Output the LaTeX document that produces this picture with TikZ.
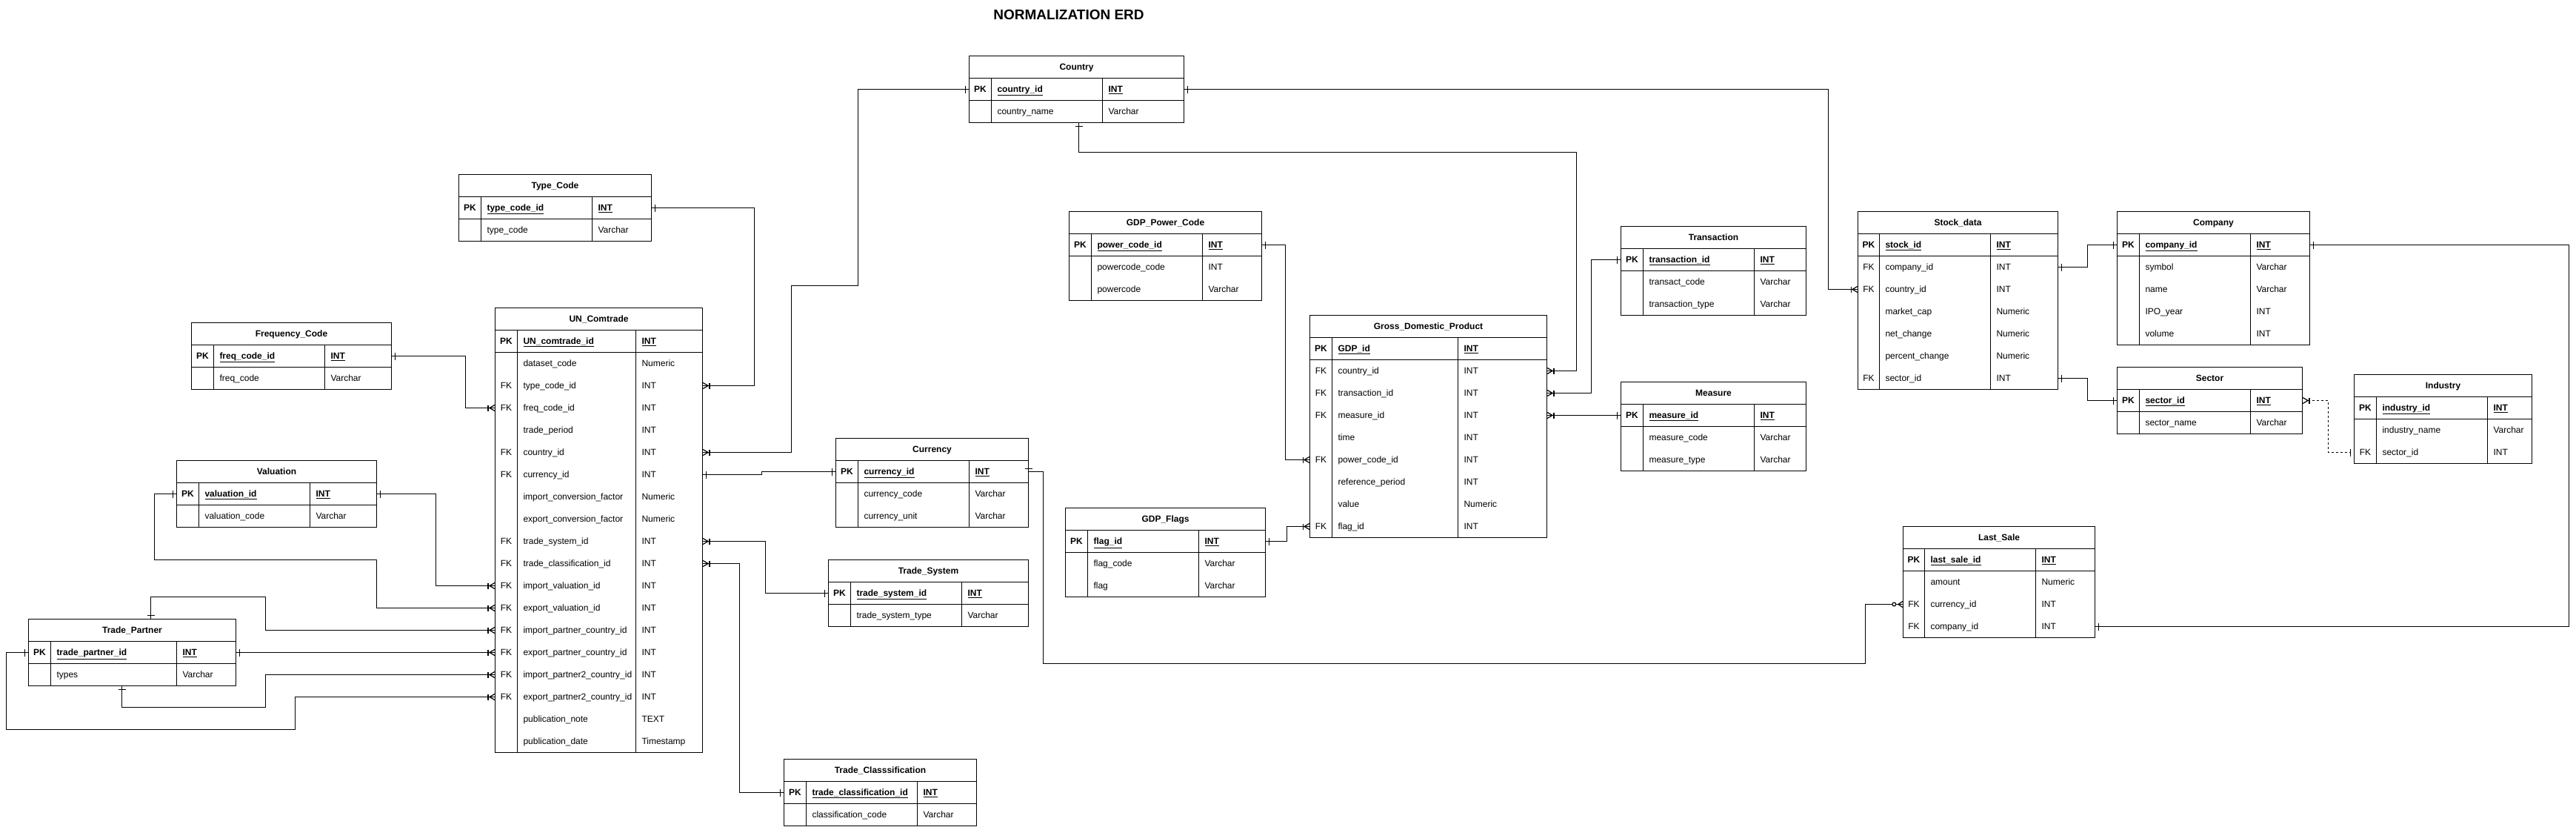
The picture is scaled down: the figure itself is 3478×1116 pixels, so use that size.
\documentclass[tikz,border=0pt]{standalone}
\usepackage{fontspec}
\setmainfont{Liberation Sans}
\usepackage{tikz}
\usetikzlibrary{arrows.meta, calc, positioning}
\tikzset{
  % testo delle celle
  cell/.style={inner sep=0pt, outer sep=0pt, text height=8.6pt, text depth=0pt, font=\fontsize{12}{14}\selectfont},
  cellbold/.style={cell, font=\fontsize{12}{14}\selectfont\bfseries},
  % linee delle tabelle
  tblborder/.style={line width=1.1pt},
  tblsep/.style={line width=1.7pt},
  % connessioni
  conn/.style={line width=1.2pt, line join=miter, preaction={draw, line width=1.2pt, arrows=-}},
  dashconn/.style={line width=1.2pt, dash pattern=on 3pt off 3pt},
  % simboli ER
  erOne/.tip={Bar[width=10pt, sep=4.5pt]},
  erMany/.tip={Bar[width=8pt] Straight Barb[reversed, length=7pt, width=8pt]},
  erZMany/.tip={Circle[length=6pt, width=6pt, fill=white, sep=1.5pt] Straight Barb[reversed, length=6pt, width=8pt]}
}
% #1 name, #2 x, #3 y, #4-#6 column widths, #7 title, #8 primary key, #9 rows
\newcommand{\erdtable}[9]{%
  \begin{scope}[shift={(#2,#3)}]
    \node[cellbold] at ({#4/2},45) {PK};
    \node[cellbold, anchor=west] (#1-0) at ({#4+8},45) {\underline{#8}};
    \node[cellbold, anchor=west] at ({#4+#5+8},45) {\underline{INT}};
    \foreach \k/\f/\t [count=\i] in {#9} {
      \node[cell] at ({#4/2},{45+30*\i}) {\k};
      \node[cell, anchor=west] (#1-\i) at ({#4+8},{45+30*\i}) {\f};
      \node[cell, anchor=west] at ({#4+#5+8},{45+30*\i}) {\t};
      \xdef\nrows{\i}
    }
    \node[inner sep=0pt, outer sep=0pt, anchor=north west,
      minimum width={(#4+#5+#6)*1pt}, minimum height={(60+30*\nrows)*1pt}] (#1) at (0,0) {};
    \draw[tblborder] (#1.north west) rectangle (#1.south east);
    \node[cellbold] at ({(#4+#5+#6)/2},15) {#7};
    \draw[tblsep] (0,30) -- ++({#4+#5+#6},0) (0,60) -- ++({#4+#5+#6},0);
    \draw[tblborder] (#4,30) -- (#4,{60+30*\nrows}) ({#4+#5},30) -- ({#4+#5},{60+30*\nrows});
  \end{scope}
}

\begin{document}
\begin{tikzpicture}[x=1pt, y=-1pt]
  \fill[white] (0,0) rectangle (3478,1116);
  \useasboundingbox (0,0) rectangle (3478,1116);

  \node[font=\fontsize{19}{22}\selectfont\bfseries] (title) at (1443,20) {NORMALIZATION ERD};

  % tabelle
  \erdtable{typecode}{619.5}{235.5}{30}{150}{80}{Type\_Code}{type\_code\_id}{{}/type\_code/Varchar}
  \erdtable{freq}{258.5}{435.5}{30}{150}{90}{Frequency\_Code}{freq\_code\_id}{{}/freq\_code/Varchar}
  \erdtable{uncom}{668.5}{415.5}{30}{160}{90}{UN\_Comtrade}{UN\_comtrade\_id}{{}/dataset\_code/Numeric,
    FK/type\_code\_id/INT, FK/freq\_code\_id/INT, {}/trade\_period/INT, FK/country\_id/INT,
    FK/currency\_id/INT, {}/import\_conversion\_factor/Numeric, {}/export\_conversion\_factor/Numeric,
    FK/trade\_system\_id/INT, FK/trade\_classification\_id/INT, FK/import\_valuation\_id/INT,
    FK/export\_valuation\_id/INT, FK/import\_partner\_country\_id/INT, FK/export\_partner\_country\_id/INT,
    FK/import\_partner2\_country\_id/INT, FK/export\_partner2\_country\_id/INT,
    {}/publication\_note/TEXT, {}/publication\_date/Timestamp}
  \erdtable{valuation}{238.5}{621.5}{30}{150}{90}{Valuation}{valuation\_id}{{}/valuation\_code/Varchar}
  \erdtable{partner}{38.5}{835.5}{30}{170}{80}{Trade\_Partner}{trade\_partner\_id}{{}/types/Varchar}
  \erdtable{currency}{1128.5}{591.5}{30}{150}{80}{Currency}{currency\_id}{{}/currency\_code/Varchar, {}/currency\_unit/Varchar}
  \erdtable{tradesys}{1118.5}{755.5}{30}{150}{90}{Trade\_System}{trade\_system\_id}{{}/trade\_system\_type/Varchar}
  \erdtable{tradecls}{1058.5}{1024.5}{30}{150}{80}{Trade\_Classsification}{trade\_classification\_id}{{}/classification\_code/Varchar}
  \erdtable{country}{1308.5}{75.5}{30}{150}{110}{Country}{country\_id}{{}/country\_name/Varchar}
  \erdtable{powercode}{1443.5}{285.5}{30}{150}{80}{GDP\_Power\_Code}{power\_code\_id}{{}/powercode\_code/INT, {}/powercode/Varchar}
  \erdtable{gdp}{1768.5}{425.5}{30}{170}{120}{Gross\_Domestic\_Product}{GDP\_id}{FK/country\_id/INT,
    FK/transaction\_id/INT, FK/measure\_id/INT, {}/time/INT, FK/power\_code\_id/INT,
    {}/reference\_period/INT, {}/value/Numeric, FK/flag\_id/INT}
  \erdtable{flags}{1438.5}{685.5}{30}{150}{90}{GDP\_Flags}{flag\_id}{{}/flag\_code/Varchar, {}/flag/Varchar}
  \erdtable{transaction}{2188.5}{305.5}{30}{150}{70}{Transaction}{transaction\_id}{{}/transact\_code/Varchar, {}/transaction\_type/Varchar}
  \erdtable{measure}{2188.5}{515.5}{30}{150}{70}{Measure}{measure\_id}{{}/measure\_code/Varchar, {}/measure\_type/Varchar}
  \erdtable{stock}{2508.5}{285.5}{29}{150}{91}{Stock\_data}{stock\_id}{FK/company\_id/INT, FK/country\_id/INT,
    {}/market\_cap/Numeric, {}/net\_change/Numeric, {}/percent\_change/Numeric, FK/sector\_id/INT}
  \erdtable{company}{2858.5}{285.5}{30}{150}{80}{Company}{company\_id}{{}/symbol/Varchar, {}/name/Varchar,
    {}/IPO\_year/INT, {}/volume/INT}
  \erdtable{sector}{2858.5}{495.5}{30}{150}{70}{Sector}{sector\_id}{{}/sector\_name/Varchar}
  \erdtable{industry}{3178.5}{505.5}{30}{150}{60}{Industry}{industry\_id}{{}/industry\_name/Varchar, FK/sector\_id/INT}
  \erdtable{lastsale}{2569.5}{710.5}{29}{150}{80}{Last\_Sale}{last\_sale\_id}{{}/amount/Numeric,
    FK/currency\_id/INT, FK/company\_id/INT}

  % relazioni di UN_Comtrade
  \draw[conn, erOne-erMany] (typecode.east |- typecode-0) -| ($(uncom.east |- uncom-2)+(70,0)$) -- (uncom.east |- uncom-2);
  \draw[conn, erOne-erMany] (freq.east |- freq-0) -| ($(uncom.west |- uncom-3)+(-40,0)$) -- (uncom.west |- uncom-3);
  \draw[conn, erOne-erMany] (country.west |- country-0) -| ++(-150,265) -| ($(uncom.east |- uncom-5)+(120,0)$) -- (uncom.east |- uncom-5);
  \draw[conn, erOne-erOne] (uncom.east |- uncom-6) -- ++(80,0) |- (currency.west |- currency-0);
  \draw[conn, erOne-erMany] (tradesys.west |- tradesys-0) -| ($(uncom.east |- uncom-9)+(85,0)$) -- (uncom.east |- uncom-9);
  \draw[conn, erOne-erMany] (tradecls.west |- tradecls-0) -| ($(uncom.east |- uncom-10)+(50,0)$) -- (uncom.east |- uncom-10);
  \draw[conn, erOne-erMany] (valuation.east |- valuation-0) -| ($(uncom.west |- uncom-11)+(-80,0)$) -- (uncom.west |- uncom-11);
  \draw[conn, erOne-erMany] (valuation.west |- valuation-0) -- ++(-30,0) |- ($(valuation.south east)+(0,44)$) |- (uncom.west |- uncom-12);
  \draw[conn, erOne-erMany] ($(partner.north west)+(165,0)$) |- ($(uncom.west |- uncom-13)+(-310,-45)$) |- (uncom.west |- uncom-13);
  \draw[conn, erOne-erMany] (partner.east |- partner-0) -- (uncom.west |- uncom-14);
  \draw[conn, erOne-erMany] ($(partner.south west)+(126,0)$) |- ($(uncom.west |- uncom-15)+(-310,44)$) |- (uncom.west |- uncom-15);
  \draw[conn, erOne-erMany] (partner.west |- partner-0) -- ++(-30,0) |- ($(uncom.west |- uncom-16)+(-270,44)$) |- (uncom.west |- uncom-16);

  % relazioni di Gross_Domestic_Product
  \draw[conn, erOne-erMany] ($(country.south west)+(148,0)$) |- ($(gdp.east |- gdp-1)+(40,-295)$) |- (gdp.east |- gdp-1);
  \draw[conn, erOne-erMany] (powercode.east |- powercode-0) -| ($(gdp.west |- gdp-5)+(-33,0)$) -- (gdp.west |- gdp-5);
  \draw[conn, erOne-erMany] (flags.east |- flags-0) -| ($(gdp.west |- gdp-8)+(-31,0)$) -- (gdp.west |- gdp-8);
  \draw[conn, erOne-erMany] (transaction.west |- transaction-0) -| ($(gdp.east |- gdp-2)+(60,0)$) -- (gdp.east |- gdp-2);
  \draw[conn, erOne-erMany] (measure.west |- gdp-3) -- (gdp.east |- gdp-3);

  % relazioni di Stock_data
  \draw[conn, erOne-erMany] (country.east |- country-0) -| ($(stock.west |- stock-2)+(-40,0)$) -- (stock.west |- stock-2);
  \draw[conn, erOne-erOne] (stock.east |- stock-1) -| ($(company.west |- company-0)+(-40,0)$) -- (company.west |- company-0);
  \draw[conn, erOne-erOne] (stock.east |- stock-6) -| ($(sector.west |- sector-0)+(-40,0)$) -- (sector.west |- sector-0);
  \draw[dashconn, erMany-erOne] (sector.east |- sector-0) -| ($(industry.west |- industry-2)+(-35,0)$) -- (industry.west |- industry-2);

  % relazioni di Last_Sale
  \draw[conn, erOne-erOne] (company.east |- company-0) -| ($(lastsale.east |- lastsale-3)+(640,0)$) -- (lastsale.east |- lastsale-3);
  \draw[conn, -erZMany] (currency.east |- currency-0) -- ++(20,0) |- ($(lastsale.west |- lastsale-2)+(-51,80)$) |- (lastsale.west |- lastsale-2);
  \draw[conn] ($(currency.east |- currency-0)+(-5,-4)$) -- ++(10,0);
\end{tikzpicture}
\end{document}
